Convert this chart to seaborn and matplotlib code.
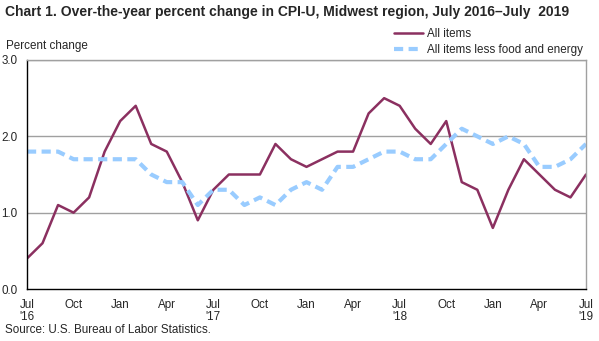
import matplotlib
matplotlib.use("Agg")
import matplotlib.pyplot as plt
import seaborn as sns
import pandas as pd
import numpy as np

months = pd.date_range("2016-07-01", "2019-07-01", freq="MS")
all_items = [0.4, 0.6, 1.1, 1.0, 1.2, 1.8, 2.2, 2.4, 1.9, 1.8, 1.4, 0.9,
             1.3, 1.5, 1.5, 1.5, 1.9, 1.7, 1.6, 1.7, 1.8, 1.8, 2.3, 2.5,
             2.4, 2.1, 1.9, 2.2, 1.4, 1.3, 0.8, 1.3, 1.7, 1.5, 1.3, 1.2, 1.5]
core_items = [1.8, 1.8, 1.8, 1.7, 1.7, 1.7, 1.7, 1.7, 1.5, 1.4, 1.4, 1.1,
              1.3, 1.3, 1.1, 1.2, 1.1, 1.3, 1.4, 1.3, 1.6, 1.6, 1.7, 1.8,
              1.8, 1.7, 1.7, 1.9, 2.1, 2.0, 1.9, 2.0, 1.9, 1.6, 1.6, 1.7, 1.9]
x_labels = ["Jul\n'16", "Oct", "Jan", "Apr", "Jul\n'17", "Oct", "Jan", "Apr",
            "Jul\n'18", "Oct", "Jan", "Apr", "Jul\n'19"]
y_ticks = [0.0, 1.0, 2.0, 3.0]

sns.set_style("white")
plt.rcParams["font.family"] = ["Liberation Sans", "DejaVu Sans"]

FS = 8.4

df = pd.DataFrame({"idx": np.arange(len(months)),
                   "All items": all_items,
                   "All items less food and energy": core_items})

fig = plt.figure(figsize=(5.99, 3.41), dpi=100)
ax = fig.add_axes([27 / 599, 1 - 289 / 341, (586 - 27) / 599, (289 - 60) / 341])

sns.lineplot(data=df, x="idx", y="All items", ax=ax, color="#8B3060",
             linewidth=1.8, label="All items")
sns.lineplot(data=df, x="idx", y="All items less food and energy", ax=ax,
             color="#99CCFF", linewidth=3.0,
             label="All items less food and energy")
ax.lines[1].set_dashes((2.2, 1.3))

ax.set_xlim(0, len(months) - 1)
ax.set_ylim(0, 3.0)
ax.set_yticks(y_ticks)
ax.set_yticklabels([f"{v:.1f}" for v in y_ticks], fontsize=FS)
ax.set_xticks(np.arange(0, len(months), 3))
ax.set_xticklabels(x_labels, fontsize=FS, va="top", linespacing=1.0)
ax.set_xticks(np.arange(len(months)), minor=True)
ax.tick_params(axis="x", which="both", direction="inout", length=7, width=1,
               color="black", pad=4)
ax.tick_params(axis="y", length=0, pad=7)
ax.set_xlabel("")
ax.set_ylabel("")

for y in [1.0, 2.0, 3.0]:
    ax.axhline(y, color="#A0A0A0", linewidth=1, zorder=0)

ax.spines["left"].set_color("black")
ax.spines["bottom"].set_color("black")
ax.spines["right"].set_color("#A0A0A0")
ax.spines["top"].set_color("#A0A0A0")
for s in ax.spines.values():
    s.set_linewidth(1)

leg = ax.legend(loc="upper left", bbox_to_anchor=(394 / 599, 1 - 28 / 341),
                bbox_transform=fig.transFigure, frameon=False, fontsize=FS,
                handlelength=2.5, handletextpad=0.3, labelspacing=0.35,
                borderaxespad=0, borderpad=0)

fig.text(5 / 599, 1 - 12 / 341,
         "Chart 1. Over-the-year percent change in CPI-U, Midwest region, July 2016\u2013July  2019",
         fontsize=10, fontweight="bold", va="center", ha="left")
fig.text(6 / 599, 1 - 46 / 341, "Percent change", fontsize=FS, va="center", ha="left")
fig.text(5 / 599, 1 - 330 / 341, "Source: U.S. Bureau of Labor Statistics.",
         fontsize=FS, va="center", ha="left")

fig.savefig("out.png", dpi=100)
